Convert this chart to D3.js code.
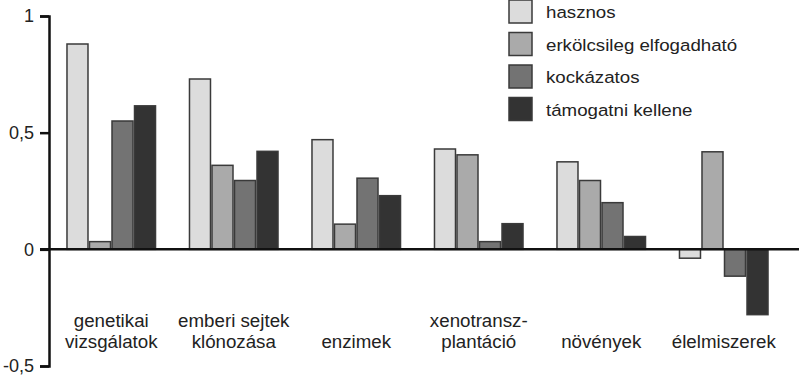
<!DOCTYPE html>
<html lang="hu">
<head>
    <meta charset="UTF-8">
    <title>Biotechnológia megítélése</title>
    <script src="https://d3js.org/d3.v7.min.js"></script>
    <style>
        body { margin: 0; background: #fff; }
        text { font-family: "Liberation Sans", Arial, sans-serif; fill: #222; }
    </style>
</head>
<body>
    <div id="chart"></div>

    <script>
        // categories (two-line labels) and series
        var categories = ["genetikai vizsgálatok", "emberi sejtek klónozása", "enzimek",
                          "xenotransz- plantáció", "növények", "élelmiszerek"];
        var categoryLines = [["genetikai", "vizsgálatok"], ["emberi sejtek", "klónozása"], ["enzimek"],
                             ["xenotransz-", "plantáció"], ["növények"], ["élelmiszerek"]];
        var seriesNames = ["hasznos", "erkölcsileg elfogadható", "kockázatos", "támogatni kellene"];
        var hasznos     = [0.88, 0.73, 0.47, 0.43, 0.375, -0.038];
        var erkolcsileg = [0.033, 0.36, 0.108, 0.405, 0.295, 0.418];
        var kockazatos  = [0.55, 0.295, 0.305, 0.033, 0.2, -0.115];
        var tamogatni   = [0.615, 0.42, 0.23, 0.11, 0.055, -0.28];
        var tickValues  = [1, 0.5, 0, -0.5];
        var tickLabels  = ["1", "0,5", "0", "-0,5"];

        var seriesValues = [hasznos, erkolcsileg, kockazatos, tamogatni];
        var colors = ["#dcdcdc", "#aaaaaa", "#737373", "#333333"];

        var width = 799, height = 376;

        var svg = d3.select("#chart").append("svg")
            .attr("width", width)
            .attr("height", height);

        var y = d3.scaleLinear().domain([-0.5, 1]).range([366, 16]);

        var x0 = d3.scaleBand()
            .domain(categories)
            .range([50, 785])
            .paddingInner(0.265)
            .paddingOuter(0.1325);

        var x1 = d3.scaleBand()
            .domain(seriesNames)
            .range([0, x0.bandwidth()]);

        // bars
        var groups = svg.selectAll("g.group")
            .data(categories)
            .enter().append("g")
            .attr("class", "group")
            .attr("transform", d => "translate(" + x0(d) + ",0)");

        groups.selectAll("rect")
            .data((d, i) => seriesNames.map((s, j) => ({ s: s, j: j, v: seriesValues[j][i] })))
            .enter().append("rect")
            .attr("x", d => x1(d.s) + 0.75)
            .attr("width", x1.bandwidth() - 1.5)
            .attr("y", d => y(Math.max(0, d.v)))
            .attr("height", d => Math.abs(y(d.v) - y(0)))
            .attr("fill", d => colors[d.j])
            .attr("stroke", "#3a3a3a")
            .attr("stroke-width", 1.5);

        // y axis
        var axis = d3.axisLeft(y)
            .tickValues(tickValues)
            .tickFormat((d, i) => tickLabels[i])
            .tickSize(9)
            .tickPadding(6);

        var axisG = svg.append("g")
            .attr("transform", "translate(49,0)")
            .call(axis);
        axisG.select(".domain").attr("stroke", "#111").attr("stroke-width", 2.5);
        axisG.selectAll(".tick line").attr("stroke", "#111").attr("stroke-width", 2.5);
        axisG.selectAll(".tick text")
            .attr("font-size", 18)
            .attr("font-family", "Liberation Sans, Arial, sans-serif")
            .attr("fill", "#222");

        // zero line
        svg.append("line")
            .attr("x1", 40).attr("x2", width)
            .attr("y1", y(0)).attr("y2", y(0))
            .attr("stroke", "#111")
            .attr("stroke-width", 2.5);

        // category labels
        categories.forEach(function(c, i) {
            var lines = categoryLines[i];
            var cx = x0(c) + x0.bandwidth() / 2;
            lines.forEach(function(line, k) {
                var yy = lines.length === 2 ? 327 + k * 21 : 348;
                svg.append("g")
                    .attr("transform", "translate(" + cx + "," + yy + ") scale(1.07,1)")
                    .append("text")
                    .attr("text-anchor", "middle")
                    .attr("font-size", 17.5)
                    .text(line);
            });
        });

        // legend
        var legend = svg.append("g").attr("transform", "translate(509,0)");
        seriesNames.forEach(function(s, i) {
            var ly = i * 32.5;
            legend.append("rect")
                .attr("x", 0).attr("y", ly)
                .attr("width", 23).attr("height", 23)
                .attr("fill", colors[i])
                .attr("stroke", "#3a3a3a")
                .attr("stroke-width", 1.5);
            legend.append("g")
                .attr("transform", "translate(37," + (ly + 18) + ") scale(1.1,1)")
                .append("text")
                .attr("font-size", 17)
                .text(s);
        });
    </script>
</body>
</html>
